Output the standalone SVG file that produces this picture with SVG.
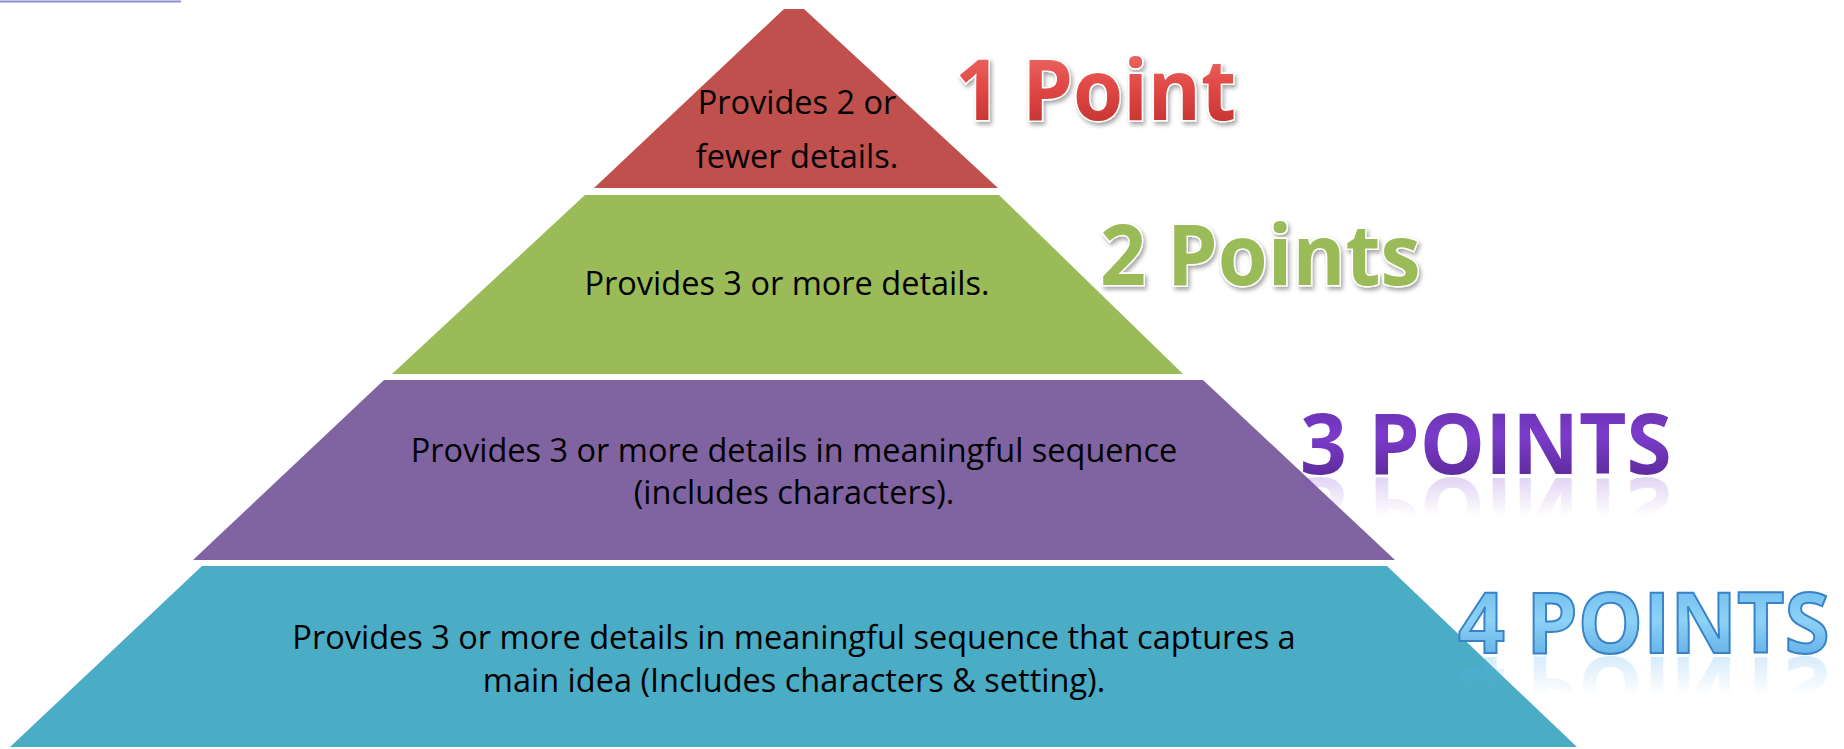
<svg xmlns="http://www.w3.org/2000/svg" width="1844" height="749" viewBox="0 0 1844 749">
<style>
.body{font-family:"Open Sans","Noto Sans",sans-serif;font-size:32.5px;fill:#000;text-anchor:middle}
.wa{font-family:"Open Sans","Noto Sans",sans-serif;font-weight:bold;text-anchor:start}
</style>
<defs>
<linearGradient id="gRed" x1="0" y1="0" x2="0" y2="1">
<stop offset="0" stop-color="#F27A78"/><stop offset="0.5" stop-color="#E04844"/><stop offset="1" stop-color="#B82A28"/>
</linearGradient>
<linearGradient id="gPur" x1="0" y1="0" x2="0" y2="1">
<stop offset="0" stop-color="#5E2A9A"/><stop offset="0.45" stop-color="#7B3CCB"/><stop offset="1" stop-color="#4E2284"/>
</linearGradient>
<linearGradient id="gBlu" x1="0" y1="0" x2="0" y2="1">
<stop offset="0" stop-color="#5FB0EC"/><stop offset="0.5" stop-color="#8DD2F6"/><stop offset="1" stop-color="#4E9EE0"/>
</linearGradient>
<linearGradient id="gPurR" x1="0" y1="0" x2="0" y2="1">
<stop offset="0" stop-color="#7B3CCB" stop-opacity="0"/><stop offset="0.45" stop-color="#7B3CCB" stop-opacity="0"/><stop offset="1" stop-color="#7B3CCB" stop-opacity="0.35"/>
</linearGradient>
<linearGradient id="gBluR" x1="0" y1="0" x2="0" y2="1">
<stop offset="0" stop-color="#5FB0EC" stop-opacity="0"/><stop offset="0.45" stop-color="#5FB0EC" stop-opacity="0"/><stop offset="1" stop-color="#5FB0EC" stop-opacity="0.4"/>
</linearGradient>
<filter id="sh" x="-10%" y="-20%" width="120%" height="150%">
<feDropShadow dx="2" dy="3" stdDeviation="2" flood-color="#000" flood-opacity="0.35"/>
</filter>
</defs>
<rect width="1844" height="749" fill="#fff"/>
<line x1="0" y1="1.5" x2="181" y2="1.5" stroke="#8C8CD0" stroke-width="2"/>

<g id="layer1">
<polygon points="784,9 804,9 998,188 594,188" fill="#C0504D"/>
<text class="body" x="797" y="114">Provides 2 or</text>
<text class="body" x="797" y="168">fewer details.</text>
</g>
<g id="layer2">
<polygon points="585,195 999,195 1183,374 392,374" fill="#9BBB59"/>
<text class="body" x="787" y="295">Provides 3 or more details.</text>
</g>
<g id="layer3">
<polygon points="384,380 1203,380 1395,560 193,560" fill="#8064A2"/>
<text class="body" x="794" y="462">Provides 3 or more details in meaningful sequence</text>
<text class="body" x="794" y="504">(includes characters).</text>
</g>
<g id="layer4">
<polygon points="202,566 1387,566 1577,747 10,747" fill="#4BACC6"/>
<text class="body" x="794" y="649">Provides 3 or more details in meaningful sequence that captures a</text>
<text class="body" x="794" y="692">main idea (Includes characters &amp; setting).</text>
</g>

<g id="label1">
<text class="wa" transform="translate(955,120) scale(0.963,1)" font-size="84" fill="url(#gRed)" stroke="#fff" stroke-width="3" paint-order="stroke" filter="url(#sh)">1 Point</text>
</g>
<g id="label2">
<text class="wa" transform="translate(1100,285) scale(0.961,1)" font-size="84" fill="#9BBB59" stroke="#fff" stroke-width="3" paint-order="stroke" filter="url(#sh)">2 Points</text>
</g>
<g id="label3">
<text class="wa" transform="translate(1300,474) scale(0.966,1)" font-size="85" fill="url(#gPur)">3 POINTS</text>
<text class="wa" transform="translate(1300,478) scale(0.966,-1)" font-size="85" fill="url(#gPurR)">3 POINTS</text>
</g>
<g id="label4">
<text class="wa" transform="translate(1458,653) scale(0.966,1)" font-size="85" fill="url(#gBlu)" stroke="#3A82C8" stroke-width="2">4 POINTS</text>
<text class="wa" transform="translate(1458,657) scale(0.966,-1)" font-size="85" fill="url(#gBluR)">4 POINTS</text>
</g>
</svg>
